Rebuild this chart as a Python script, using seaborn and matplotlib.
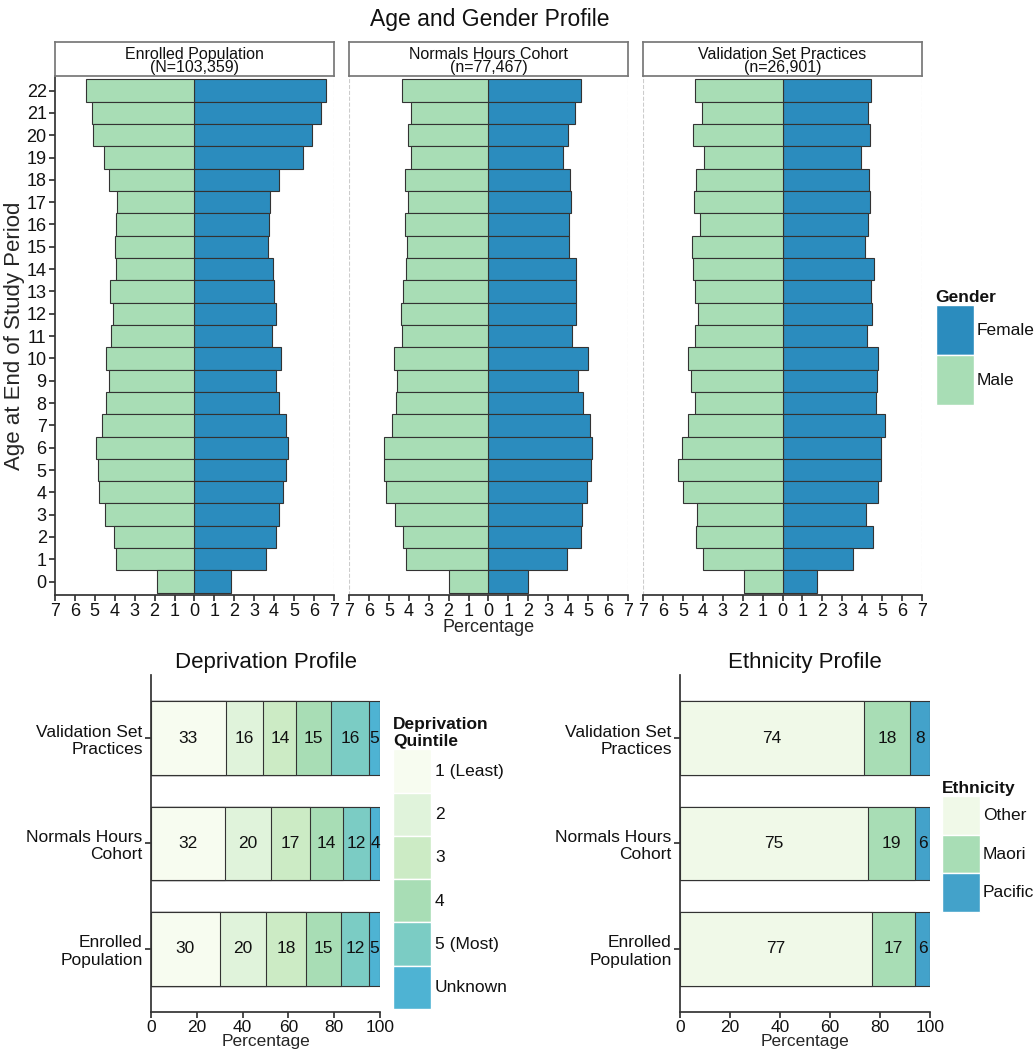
import numpy as np
import pandas as pd
import matplotlib
matplotlib.use("Agg")
import matplotlib.pyplot as plt
from matplotlib.patches import Patch
import seaborn as sns

# age pyramid data (percent of each cohort), ages 0..22
ages = list(range(23))

enrolled_female = [1.83, 3.58, 4.08, 4.25, 4.45, 4.62, 4.70, 4.62, 4.25, 4.08, 4.37, 3.87,
                   4.08, 3.97, 3.92, 3.67, 3.72, 3.77, 4.25, 5.45, 5.92, 6.37, 6.62]
enrolled_male = [1.87, 3.95, 4.03, 4.47, 4.80, 4.83, 4.95, 4.63, 4.45, 4.28, 4.45, 4.17,
                 4.08, 4.25, 3.95, 4.00, 3.95, 3.90, 4.30, 4.53, 5.07, 5.15, 5.45]

normals_female = [1.97, 3.92, 4.62, 4.67, 4.97, 5.17, 5.20, 5.08, 4.72, 4.47, 5.00, 4.20,
                  4.40, 4.38, 4.37, 4.02, 4.03, 4.12, 4.10, 3.75, 4.00, 4.33, 4.63]
normals_male = [2.00, 4.13, 4.30, 4.70, 5.13, 5.23, 5.25, 4.83, 4.62, 4.57, 4.73, 4.33,
                4.38, 4.28, 4.15, 4.08, 4.17, 4.02, 4.18, 3.90, 4.05, 3.90, 4.35]

validation_female = [1.75, 3.55, 4.55, 4.20, 4.78, 4.93, 4.93, 5.13, 4.70, 4.75, 4.78, 4.25,
                     4.48, 4.42, 4.60, 4.12, 4.28, 4.38, 4.35, 3.95, 4.37, 4.28, 4.45]
validation_male = [1.92, 3.97, 4.32, 4.30, 4.97, 5.27, 5.05, 4.75, 4.37, 4.57, 4.75, 4.40,
                   4.22, 4.37, 4.48, 4.52, 4.15, 4.43, 4.32, 3.92, 4.47, 4.02, 4.37]

panel_titles = ["Enrolled Population\n(N=103,359)",
                "Normals Hours Cohort\n(n=77,467)",
                "Validation Set Practices\n(n=26,901)"]

gender_colors = {"Female": "#2b8cbe", "Male": "#a8ddb5"}

# bottom charts
groups = ["Validation Set\nPractices", "Normals Hours\nCohort", "Enrolled\nPopulation"]

dep_labels = ["1 (Least)", "2", "3", "4", "5 (Most)", "Unknown"]
dep_validation = [32.7, 16.4, 14.3, 15.3, 16.3, 5.0]
dep_normals = [32.1, 20.2, 17.3, 14.2, 12.0, 4.2]
dep_enrolled = [30.1, 20.0, 17.6, 15.2, 12.3, 4.8]
dep_colors = ["#f7fcf0", "#e0f3db", "#ccebc5", "#a8ddb5", "#7bccc4", "#4eb3d3"]

eth_labels = ["Other", "Maori", "Pacific"]
eth_validation = [73.6, 18.4, 8.0]
eth_normals = [75.2, 18.8, 6.0]
eth_enrolled = [76.9, 17.2, 5.9]
eth_colors = ["#f0f9e8", "#a8ddb5", "#43a2ca"]

EDGE = "#333333"


def swatch_height(px, fs_px=16.67):
    # legend handleheight giving a patch of about px pixels
    return (px / fs_px - 0.245) / 0.65


def stacked(ax, rows, labels, colors, title):
    vals = np.array(rows)
    cum = vals.cumsum(axis=1)
    # draw cumulative totals widest first so segments stack
    for j in reversed(range(len(labels))):
        sns.barplot(x=cum[:, j], y=groups, color=colors[j], width=0.7, saturation=1,
                    edgecolor=EDGE, linewidth=0.8, orient="h", ax=ax)
    for i in range(len(groups)):
        for j in range(len(labels)):
            ax.text(cum[i, j] - vals[i, j] / 2, i, f"{vals[i, j]:.0f}",
                    ha="center", va="center", fontsize=12.5, color="#111111")
    ax.set_xlim(0, 100)
    ax.set_ylim(2.6, -0.6)
    ax.set_xticks(range(0, 101, 20))
    ax.set_xlabel("Percentage", fontsize=12.5, labelpad=-1)
    ax.set_ylabel("")
    ax.set_title(title, fontsize=16, pad=5)
    ax.tick_params(labelsize=12.5, length=4, pad=2, color=EDGE)
    sns.despine(ax=ax)


def main():
    sns.set_theme(style="ticks")
    plt.rcParams["font.family"] = ["Liberation Sans", "DejaVu Sans"]
    plt.rcParams["axes.edgecolor"] = EDGE
    plt.rcParams["text.color"] = "#111111"
    plt.rcParams["xtick.color"] = EDGE
    plt.rcParams["ytick.color"] = EDGE
    plt.rcParams["xtick.labelcolor"] = "#111111"
    plt.rcParams["ytick.labelcolor"] = "#111111"

    fig = plt.figure(figsize=(10.35, 10.52), dpi=100)
    fig.text(0.473, 0.981, "Age and Gender Profile", ha="center", va="center", fontsize=16.5)

    females = [enrolled_female, normals_female, validation_female]
    males = [enrolled_male, normals_male, validation_male]
    lefts = [0.0531, 0.3372, 0.6213]
    order = [str(a) for a in ages[::-1]]

    for i in range(3):
        ax = fig.add_axes([lefts[i], 0.4344, 0.2695, 0.4933])
        df = pd.DataFrame({
            "age": [str(a) for a in ages] * 2,
            "pct": list(females[i]) + [-m for m in males[i]],
            "gender": ["Female"] * len(ages) + ["Male"] * len(ages),
        })
        sns.barplot(data=df, x="pct", y="age", hue="gender", order=order,
                    palette=gender_colors, dodge=False, width=1, saturation=1,
                    edgecolor=EDGE, linewidth=0.8, orient="h", legend=False, ax=ax)
        ax.set_xlim(-7, 7)
        ax.set_ylim(len(ages) - 0.4, -0.65)
        ax.set_xticks(range(-7, 8))
        ax.set_xticklabels([str(abs(t)) for t in range(-7, 8)])
        ax.tick_params(labelsize=13, length=4, pad=2)
        ax.axvline(7, ls="--", color="#cccccc", lw=0.8, zorder=0)
        sns.despine(ax=ax)
        if i == 0:
            ax.set_ylabel("Age at End of Study Period", fontsize=16, labelpad=1)
        else:
            ax.set_ylabel("")
            ax.set_yticks([])
            ax.spines["left"].set_visible(False)
            ax.axvline(-7, ls="--", color="#cccccc", lw=0.8, zorder=0)
        if i == 1:
            ax.set_xlabel("Percentage", fontsize=13, labelpad=-1)
        else:
            ax.set_xlabel("")

        sax = fig.add_axes([lefts[i], 0.9278, 0.2695, 0.0323])
        sax.set_xticks([])
        sax.set_yticks([])
        for sp in sax.spines.values():
            sp.set_color("#777777")
        sax.text(0.5, 0.45, panel_titles[i], ha="center", va="center",
                 fontsize=11.5, linespacing=0.85, transform=sax.transAxes)

    fig.legend(handles=[Patch(fc=gender_colors["Female"]), Patch(fc=gender_colors["Male"])],
               labels=["Female", "Male"], title="Gender", loc="upper left",
               bbox_to_anchor=(0.904, 0.7243), frameon=False, fontsize=12.5,
               title_fontproperties={"weight": "bold", "size": 12.5}, alignment="left",
               handlelength=2.2, handleheight=swatch_height(48), labelspacing=0,
               handletextpad=0.15, borderpad=0, borderaxespad=0)

    ax_dep = fig.add_axes([0.1459, 0.0381, 0.2213, 0.3203])
    stacked(ax_dep, [dep_validation, dep_normals, dep_enrolled], dep_labels, dep_colors,
            "Deprivation Profile")
    fig.legend(handles=[Patch(fc=c) for c in dep_colors], labels=dep_labels,
               title="Deprivation\nQuintile", loc="upper left",
               bbox_to_anchor=(0.380, 0.3184), frameon=False, fontsize=12.5,
               title_fontproperties={"weight": "bold", "size": 12.5}, alignment="left",
               handlelength=2.2, handleheight=swatch_height(41.5), labelspacing=0,
               handletextpad=0.2, borderpad=0, borderaxespad=0)

    ax_eth = fig.add_axes([0.657, 0.0381, 0.2415, 0.3203])
    stacked(ax_eth, [eth_validation, eth_normals, eth_enrolled], eth_labels, eth_colors,
            "Ethnicity Profile")
    fig.legend(handles=[Patch(fc=c) for c in eth_colors], labels=eth_labels,
               title="Ethnicity", loc="upper left",
               bbox_to_anchor=(0.910, 0.2576), frameon=False, fontsize=12.5,
               title_fontproperties={"weight": "bold", "size": 12.5}, alignment="left",
               handlelength=2.2, handleheight=swatch_height(37), labelspacing=0,
               handletextpad=0.15, borderpad=0, borderaxespad=0)

    fig.savefig("out.png", dpi=100)


if __name__ == "__main__":
    main()
